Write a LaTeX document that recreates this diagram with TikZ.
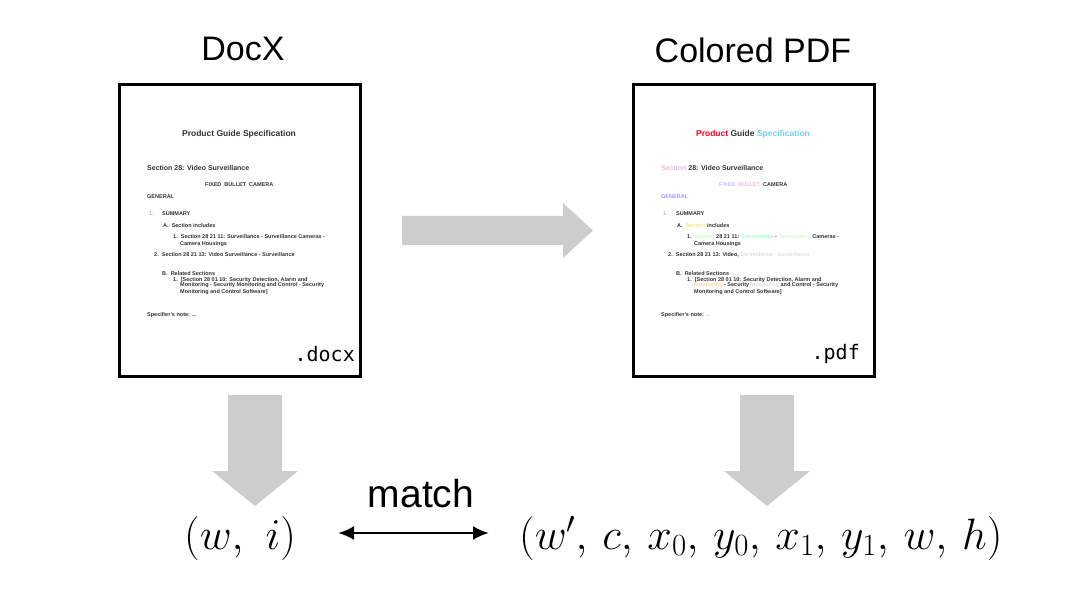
\RequirePackage{fix-cm}
\documentclass[tikz,border=0pt]{standalone}
\usepackage{fontspec}
\setmainfont{Liberation Sans}
\newfontfamily\monofont{DejaVu Sans Mono}
\usetikzlibrary{arrows.meta}
\definecolor{arrowgray}{RGB}{205,205,205}
\newcommand{\cm}{,\mkern3mu}
\tikzset{
  docbox/.style={draw=black, line width=3pt, fill=white, outer sep=0pt, inner sep=0pt, minimum width=241pt, minimum height=292pt, anchor=north west},
  title/.style={font=\fontsize{34}{40}\selectfont, anchor=base, inner sep=0pt},
  dt/.style={font=\fontsize{5.5}{6}\selectfont\bfseries, anchor=base west, inner sep=0pt, text=black!80},
  dsec/.style={font=\fontsize{7}{8}\selectfont\bfseries, anchor=base west, inner sep=0pt, text=black!80},
  dtitle/.style={font=\fontsize{8.5}{9}\selectfont\bfseries, anchor=base, inner sep=0pt, text=black!80},
  ext/.style={font=\fontsize{20}{24}\selectfont\monofont, anchor=base east, inner sep=0pt},
  blockarrow/.style={fill=arrowgray, draw=none},
  mathlbl/.style={anchor=base west, inner sep=0pt, font=\fontsize{44}{50}\selectfont},
  matchlbl/.style={anchor=base, inner sep=0pt, font=\fontsize{39}{44}\selectfont},
  dbl/.style={line width=2.6pt, {Latex[length=16pt,width=14pt]}-{Latex[length=16pt,width=14pt]}}
}
\begin{document}
\begin{tikzpicture}[x=1pt,y=-1pt]
\useasboundingbox (0,0) rectangle (1080,591);
% titles
\node[title] (tdocx) at (243,61) {DocX};
\node[title] (tpdf) at (753,63) {Colored PDF};
% document boxes
\node[docbox] (docx) at (119.5,84.5) {};
\node[docbox] (pdf) at (633.5,84.5) {};
% left document content
\node[dtitle] (l1) at (239,137) {Product Guide Specification};
\node[dsec] (l2) at (147,171) {Section 28: Video Surveillance};
\node[dt] (l3) at (205,187) {FIXED \ BULLET \ CAMERA};
\node[dt] (l4) at (147,199) {GENERAL};
\node[dt, text=black!30] (l5a) at (149,215) {1.};
\node[dt] (l5) at (162,215) {SUMMARY};
\node[dt] (l6) at (163,228) {A.\ \ Section includes};
\node[dt] (l7) at (173,239) {1.\ \ Section 28 21 11: Surveillance - Surveillance Cameras -};
\node[dt] (l8) at (180,245) {Camera Housings};
\node[dt] (l9) at (154,257) {2.\ \ Section 28 21 13: Video Surveillance - Surveillance};
\node[dt] (l10) at (162,275) {B.\ \ Related Sections};
\node[dt] (l11) at (173,281) {1.\ \ [Section 28 01 10: Security Detection, Alarm and};
\node[dt] (l12) at (180,287) {Monitoring - Security Monitoring and Control - Security};
\node[dt] (l13) at (180,293) {Monitoring and Control Software]};
\node[dt] (l14) at (147,316) {Specifier's note: ...};
\node[ext] (edocx) at (355,361) {.docx};
% right document content
\begin{scope}[shift={(514,0)}]
\node[dtitle] (r1) at (239,137) {\textcolor{red!85!magenta}{Product} Guide \textcolor{cyan!55}{Specification}};
\node[dsec] (r2) at (147,171) {\textcolor{violet!25}{Section} 28: Video Surveillance};
\node[dt] (r3) at (205,187) {\textcolor{blue!25}{FIXED} \ \textcolor{orange!35!magenta!35}{BULLET} \ CAMERA};
\node[dt] (r4) at (147,199) {\textcolor{blue!40}{GENERAL}};
\node[dt, text=black!25] (r5a) at (149,215) {1.};
\node[dt] (r5) at (162,215) {SUMMARY};
\node[dt] (r6) at (163,228) {A.\ \ \textcolor{yellow!70!orange!50}{Section} includes};
\node[dt] (r7) at (173,239) {1.\ \ \textcolor{green!25}{Section} 28 21 11: \textcolor{green!50!cyan!40}{Surveillance} - \textcolor{yellow!40!green!20}{Surveillance} Cameras -};
\node[dt] (r8) at (180,245) {Camera Housings};
\node[dt] (r9) at (154,257) {2.\ \ Section 28 21 13: Video, \textcolor{black!12}{Surveillance - Surveillance}};
\node[dt] (r10) at (162,275) {B.\ \ Related Sections};
\node[dt] (r11) at (173,281) {1.\ \ [Section 28 01 10: Security Detection, Alarm and};
\node[dt] (r12) at (180,287) {\textcolor{orange!30}{Monitoring} - Security \textcolor{black!12}{Monitoring} and Control - Security};
\node[dt] (r13) at (180,293) {Monitoring and Control Software]};
\node[dt] (r14) at (147,316) {Specifier's note: \textcolor{black!30}{...}};
\end{scope}
\node[ext] (epdf) at (860,359) {.pdf};
% block arrows
\fill[blockarrow] (402,216) -- (563,216) -- (563,203) -- (593,230.5) -- (563,258) -- (563,245) -- (402,245) -- cycle;
\fill[blockarrow] (228,395) -- (282,395) -- (282,471) -- (298,471) -- (255,506) -- (212,471) -- (228,471) -- cycle;
\fill[blockarrow] (740,395) -- (794,395) -- (794,471) -- (810,471) -- (767,506) -- (724,471) -- (740,471) -- cycle;
% tuples
\node[mathlbl] (wi) at (184,549) {$(w,\mkern6mu i)$};
\node[mathlbl] (tup) at (519,549) {$(w'\cm c\cm x_0\cm y_0\cm x_1\cm y_1\cm w\cm h)$};
\node[matchlbl] (match) at (421,507) {match};
\coordinate (ml) at (338,533);
\coordinate (mr) at (489,533);
\draw[dbl] (ml) -- (mr);
\end{tikzpicture}
\end{document}
